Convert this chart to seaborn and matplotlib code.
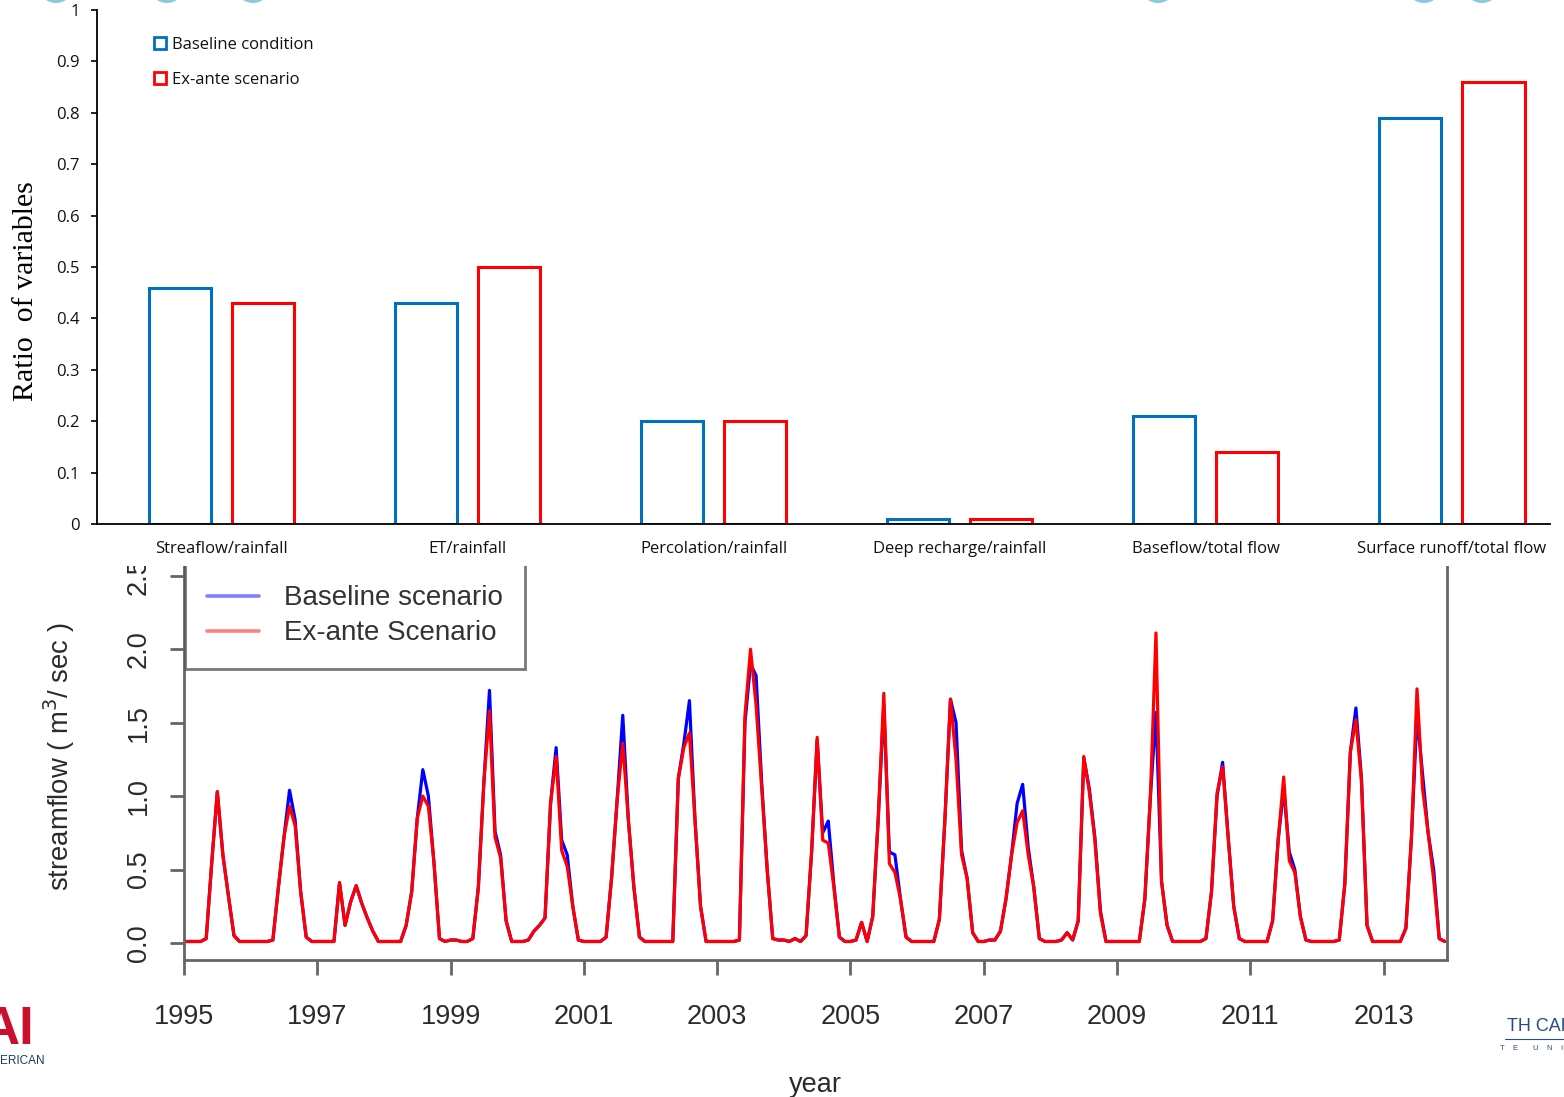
import matplotlib
matplotlib.use("Agg")
import matplotlib.pyplot as plt
from matplotlib.lines import Line2D
from matplotlib.patches import Rectangle, Ellipse
import numpy as np
import pandas as pd
import seaborn as sns

# ---- top panel: water balance ratios
categories = ["Streaflow/rainfall", "ET/rainfall", "Percolation/rainfall",
              "Deep recharge/rainfall", "Baseflow/total flow", "Surface runoff/total flow"]
baseline_ratio = [0.46, 0.43, 0.20, 0.01, 0.21, 0.79]
exante_ratio = [0.43, 0.50, 0.20, 0.01, 0.14, 0.86]
ratio_labels = ["Baseline condition", "Ex-ante scenario"]
ratio_ticks = [0, 0.1, 0.2, 0.3, 0.4, 0.5, 0.6, 0.7, 0.8, 0.9, 1]
ratio_tick_labels = ["0", "0.1", "0.2", "0.3", "0.4", "0.5", "0.6", "0.7", "0.8", "0.9", "1"]

# ---- bottom panel: monthly streamflow (m3/sec), Jan 1995 - Dec 2013, one row per year
start_year = 1995
baseline_flow = [
    0.01, 0.01, 0.01, 0.01, 0.03, 0.55, 1.03, 0.60, 0.32, 0.05, 0.01, 0.01,  # 1995
    0.01, 0.01, 0.01, 0.01, 0.02, 0.38, 0.72, 1.04, 0.84, 0.35, 0.04, 0.01,  # 1996
    0.01, 0.01, 0.01, 0.01, 0.41, 0.12, 0.28, 0.39, 0.27, 0.17, 0.08, 0.01,  # 1997
    0.01, 0.01, 0.01, 0.01, 0.12, 0.35, 0.85, 1.18, 1.00, 0.55, 0.03, 0.01,  # 1998
    0.02, 0.02, 0.01, 0.01, 0.03, 0.38, 1.10, 1.72, 0.76, 0.60, 0.15, 0.01,  # 1999
    0.01, 0.01, 0.02, 0.08, 0.12, 0.17, 0.95, 1.33, 0.70, 0.60, 0.25, 0.02,  # 2000
    0.01, 0.01, 0.01, 0.01, 0.04, 0.45, 0.98, 1.55, 0.84, 0.38, 0.04, 0.01,  # 2001
    0.01, 0.01, 0.01, 0.01, 0.01, 1.12, 1.36, 1.65, 0.84, 0.25, 0.01, 0.01,  # 2002
    0.01, 0.01, 0.01, 0.01, 0.02, 1.50, 1.90, 1.82, 1.10, 0.50, 0.03, 0.02,  # 2003
    0.02, 0.01, 0.03, 0.01, 0.05, 0.62, 1.38, 0.75, 0.83, 0.40, 0.04, 0.01,  # 2004
    0.01, 0.02, 0.14, 0.01, 0.18, 0.85, 1.62, 0.62, 0.60, 0.30, 0.04, 0.01,  # 2005
    0.01, 0.01, 0.01, 0.01, 0.16, 0.84, 1.66, 1.50, 0.63, 0.44, 0.07, 0.01,  # 2006
    0.01, 0.02, 0.02, 0.08, 0.30, 0.60, 0.95, 1.08, 0.65, 0.38, 0.03, 0.01,  # 2007
    0.01, 0.01, 0.02, 0.07, 0.02, 0.15, 1.26, 1.05, 0.72, 0.22, 0.01, 0.01,  # 2008
    0.01, 0.01, 0.01, 0.01, 0.01, 0.30, 1.00, 1.57, 0.42, 0.12, 0.01, 0.01,  # 2009
    0.01, 0.01, 0.01, 0.01, 0.03, 0.35, 1.00, 1.23, 0.72, 0.25, 0.03, 0.01,  # 2010
    0.01, 0.01, 0.01, 0.01, 0.15, 0.70, 1.05, 0.62, 0.50, 0.18, 0.02, 0.01,  # 2011
    0.01, 0.01, 0.01, 0.01, 0.02, 0.40, 1.30, 1.60, 1.12, 0.12, 0.01, 0.01,  # 2012
    0.01, 0.01, 0.01, 0.01, 0.10, 0.72, 1.55, 1.15, 0.75, 0.50, 0.03, 0.01,  # 2013
]
exante_flow = [
    0.01, 0.01, 0.01, 0.01, 0.03, 0.55, 1.03, 0.60, 0.32, 0.05, 0.01, 0.01,  # 1995
    0.01, 0.01, 0.01, 0.01, 0.02, 0.38, 0.72, 0.93, 0.80, 0.35, 0.04, 0.01,  # 1996
    0.01, 0.01, 0.01, 0.01, 0.41, 0.12, 0.28, 0.39, 0.27, 0.17, 0.08, 0.01,  # 1997
    0.01, 0.01, 0.01, 0.01, 0.12, 0.35, 0.85, 1.00, 0.93, 0.55, 0.03, 0.01,  # 1998
    0.02, 0.02, 0.01, 0.01, 0.03, 0.38, 1.10, 1.58, 0.72, 0.58, 0.15, 0.01,  # 1999
    0.01, 0.01, 0.02, 0.08, 0.12, 0.17, 0.95, 1.27, 0.63, 0.52, 0.25, 0.02,  # 2000
    0.01, 0.01, 0.01, 0.01, 0.04, 0.45, 0.98, 1.36, 0.84, 0.38, 0.04, 0.01,  # 2001
    0.01, 0.01, 0.01, 0.01, 0.01, 1.12, 1.33, 1.43, 0.84, 0.25, 0.01, 0.01,  # 2002
    0.01, 0.01, 0.01, 0.01, 0.02, 1.55, 2.00, 1.62, 1.06, 0.50, 0.03, 0.02,  # 2003
    0.02, 0.01, 0.03, 0.01, 0.05, 0.62, 1.40, 0.70, 0.68, 0.38, 0.04, 0.01,  # 2004
    0.01, 0.02, 0.14, 0.01, 0.18, 0.85, 1.70, 0.54, 0.48, 0.30, 0.04, 0.01,  # 2005
    0.01, 0.01, 0.01, 0.01, 0.16, 0.84, 1.66, 1.25, 0.60, 0.44, 0.07, 0.01,  # 2006
    0.01, 0.02, 0.02, 0.08, 0.30, 0.60, 0.82, 0.90, 0.60, 0.38, 0.03, 0.01,  # 2007
    0.01, 0.01, 0.02, 0.07, 0.02, 0.15, 1.27, 1.03, 0.70, 0.20, 0.01, 0.01,  # 2008
    0.01, 0.01, 0.01, 0.01, 0.01, 0.30, 1.00, 2.11, 0.42, 0.12, 0.01, 0.01,  # 2009
    0.01, 0.01, 0.01, 0.01, 0.03, 0.35, 1.02, 1.20, 0.72, 0.25, 0.03, 0.01,  # 2010
    0.01, 0.01, 0.01, 0.01, 0.15, 0.70, 1.13, 0.56, 0.48, 0.18, 0.02, 0.01,  # 2011
    0.01, 0.01, 0.01, 0.01, 0.02, 0.40, 1.30, 1.52, 1.10, 0.12, 0.01, 0.01,  # 2012
    0.01, 0.01, 0.01, 0.01, 0.10, 0.72, 1.73, 1.05, 0.75, 0.43, 0.03, 0.01,  # 2013
]
flow_labels = ["Baseline scenario", "Ex-ante Scenario"]
year_ticks = [1995, 1997, 1999, 2001, 2003, 2005, 2007, 2009, 2011, 2013]
flow_ticks = [0.0, 0.5, 1.0, 1.5, 2.0, 2.5]

W, H = 1564, 1097


def fx(px):
    return px / W


def fy(py):
    return 1 - py / H


sns.set_style("white")
plt.rcParams["font.family"] = ["Liberation Sans", "DejaVu Sans"]

fig = plt.figure(figsize=(W / 100, H / 100), dpi=100)

# ---------------- bottom: streamflow time series (R style)
ax2 = fig.add_axes([fx(184), fy(960), (1447 - 184) / W, (960 - 500) / H])
time = start_year + np.arange(len(baseline_flow)) / 12
flow_df = pd.DataFrame({
    "time": np.concatenate([time, time]),
    "flow": baseline_flow + exante_flow,
    "scenario": [flow_labels[0]] * len(baseline_flow) + [flow_labels[1]] * len(exante_flow),
})
sns.lineplot(data=flow_df, x="time", y="flow", hue="scenario", hue_order=flow_labels,
             palette=["#0000ff", "#ff0000"], linewidth=2.3, legend=False, ax=ax2)
ax2.set_xlim(1995, 2013.95)
ax2.set_ylim(-0.116, 3.016)
for s in ax2.spines.values():
    s.set_visible(True)
    s.set_color("#666666")
    s.set_linewidth(2)
ax2.set_xticks(year_ticks, labels=[str(y) for y in year_ticks])
ax2.set_yticks(flow_ticks, labels=[f"{t:.1f}" for t in flow_ticks])
ax2.tick_params(axis="x", length=11, width=2, color="#666666", pad=21,
                labelsize=19.5, labelcolor="#2b2b2b", bottom=True)
ax2.tick_params(axis="y", length=10, width=2, color="#666666", pad=13,
                labelsize=19.5, labelcolor="#2b2b2b", left=True, labelrotation=90)
for lab in ax2.get_yticklabels():
    lab.set_va("center")
ax2.set_xlabel("year", fontsize=19.5, color="#2b2b2b", labelpad=30)
ax2.set_ylabel("streamflow ( m$^3$/ sec )", fontsize=19.8, color="#2b2b2b")
ax2.yaxis.set_label_coords((77 - 184) / 1263, (960 - 757) / 460)

leg2 = ax2.legend(
    handles=[Line2D([], [], color="#8080ff", lw=2.6), Line2D([], [], color="#ff8080", lw=2.6)],
    labels=flow_labels, loc="upper left", bbox_to_anchor=(fx(185), fy(563)),
    bbox_transform=fig.transFigure, frameon=True, fancybox=False, fontsize=20,
    handlelength=1.87, handletextpad=0.9, borderpad=0.8, labelspacing=0.33,
    borderaxespad=0)
leg2.get_frame().set_edgecolor("#555555")
leg2.get_frame().set_linewidth(2)
for t in leg2.get_texts():
    t.set_color("#333333")

# white slide area hiding the upper part of the R plot
fig.add_artist(Rectangle((0, fy(566)), 1, 566 / H, transform=fig.transFigure,
                         facecolor="white", edgecolor="none", zorder=5))

# ---------------- top: ratio bar chart
ax1 = fig.add_axes([fx(97), fy(524), (1550 - 97) / W, 514 / H])
ax1.set_zorder(10)
ax1.patch.set_alpha(0)
ratio_df = pd.DataFrame({
    "category": categories * 2,
    "ratio": baseline_ratio + exante_ratio,
    "scenario": [ratio_labels[0]] * len(categories) + [ratio_labels[1]] * len(categories),
})
sns.barplot(data=ratio_df, x="category", y="ratio", hue="scenario", hue_order=ratio_labels,
            palette=["#0070c0", "#ff0000"], fill=False, width=0.676, gap=0.246,
            linewidth=2.2, errorbar=None, legend=False, ax=ax1)
ax1.set_xlim(-0.506, 5.40)
ax1.set_ylim(0, 1)
ax1.set_yticks(ratio_ticks, labels=ratio_tick_labels)
sns.despine(ax=ax1)
for side in ["left", "bottom"]:
    ax1.spines[side].set_color("black")
    ax1.spines[side].set_linewidth(1.3)
ax1.tick_params(axis="y", length=4.5, width=1.2, color="black", pad=8, left=True)
ax1.tick_params(axis="x", length=0, pad=12)
for lab in ax1.get_xticklabels() + ax1.get_yticklabels():
    lab.set_family(["Open Sans", "DejaVu Sans"])
    lab.set_fontsize(12)
    lab.set_color("#111111")
ax1.set_xlabel("")
ax1.set_ylabel("Ratio  of variables", family=["Liberation Serif", "DejaVu Serif"],
               fontsize=21.5, color="black")
ax1.yaxis.set_label_coords((39 - 97) / 1453, (524 - 291) / 514)

leg1 = ax1.legend(
    handles=[Line2D([], [], marker="s", ls="none", mfc="white", mec=c, ms=8, mew=2)
             for c in ["#0070c0", "#ff0000"]],
    labels=ratio_labels, loc="upper left", bbox_to_anchor=(fx(154), fy(37)),
    bbox_transform=fig.transFigure, frameon=False, handlelength=0.75,
    handletextpad=0.3, labelspacing=1.12, borderaxespad=0, borderpad=0,
    prop={"family": ["Open Sans", "DejaVu Sans"], "size": 12})
for t in leg1.get_texts():
    t.set_color("#111111")

# ---------------- slide decorations
for cx in [56, 167, 253, 1158, 1424, 1482]:
    fig.add_artist(Ellipse((fx(cx), fy(-11)), 32 / W, 28 / H, transform=fig.transFigure,
                           facecolor="#8cc9dc", edgecolor="none", zorder=20))
fig.text(fx(-18), fy(1044), "AI", color="#c8102e", fontsize=38, fontweight="bold",
         ha="left", va="baseline", family=["Liberation Sans Narrow", "Liberation Sans"])
fig.text(fx(0), fy(1064), "ERICAN", color="#1f3a68", fontsize=8.5, ha="left", va="baseline")
fig.text(fx(1507), fy(1031), "TH CAROLINA", color="#2a4a8a", fontsize=13, ha="left",
         va="baseline")
fig.add_artist(Line2D([fx(1505), 1], [fy(1039), fy(1039)], transform=fig.transFigure,
                      color="#2a4a8a", lw=0.8))
fig.text(fx(1500), fy(1050), "T    E       U    N    I", color="#2a4a8a", fontsize=5.5,
         ha="left", va="baseline")

fig.savefig("out.png", dpi=100)
